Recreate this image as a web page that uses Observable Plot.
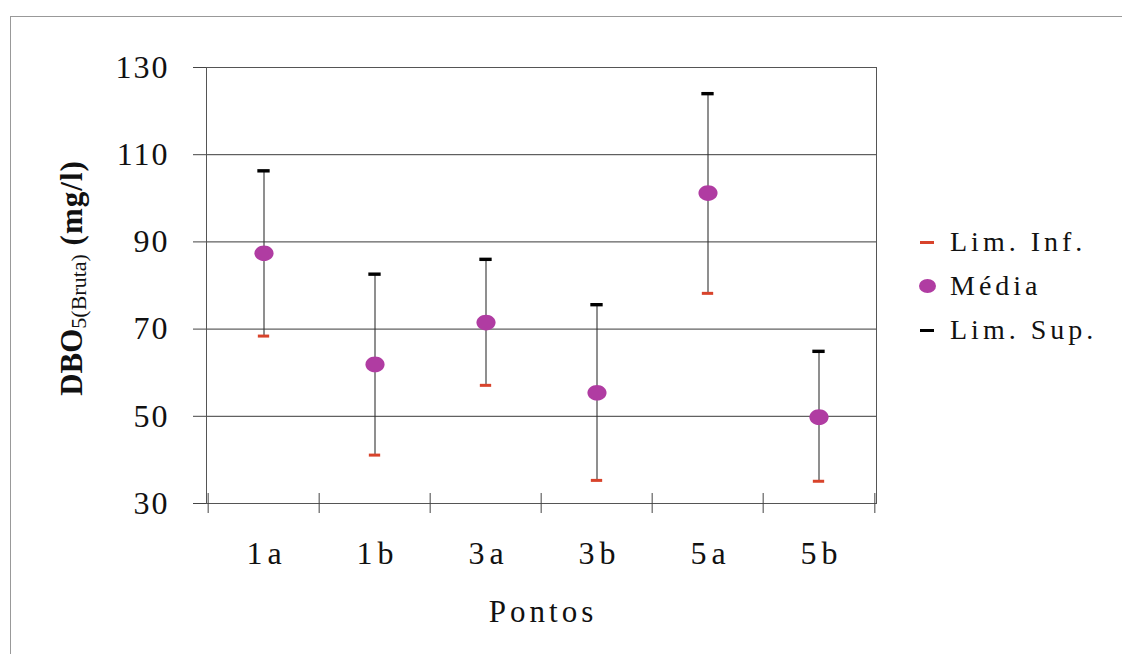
<!DOCTYPE html>
<html><head><meta charset="utf-8">
<script src="https://cdn.jsdelivr.net/npm/d3@7"></script>
<script src="https://cdn.jsdelivr.net/npm/@observablehq/plot@0.6"></script>
<style>
body{margin:0;background:#fff;}
#wrap{position:relative;width:1122px;height:654px;overflow:hidden;font-family:"Liberation Serif","Times New Roman",serif;background:#fff;}
#frame{position:absolute;left:10px;top:16px;right:-5px;bottom:-5px;border-left:1.5px solid #999;border-top:1.5px solid #999;}
#chart{position:absolute;left:0;top:0;}
#legend{position:absolute;left:915px;top:220px;font-family:"Liberation Serif","Times New Roman",serif;font-size:28px;letter-spacing:4px;color:#111;}
.item{display:flex;align-items:center;height:44px;}
.sw{width:24px;margin-right:11px;display:flex;justify-content:center;align-items:center;}
</style></head>
<body>
<div id="wrap"><div id="frame"></div><div id="chart"></div>
<div id="legend"></div></div>
<script>
const pontos = ["1a","1b","3a","3b","5a","5b"];
const limInf = [68.4, 41.1, 57.1, 35.3, 78.2, 35.1];
const media  = [87.4, 61.9, 71.5, 55.4, 101.2, 49.8];
const limSup = [106.3, 82.6, 86.0, 75.6, 124.0, 64.9];
const yTicks = [30, 50, 70, 90, 110, 130];
const seriesNames = ["Lim. Inf.", "Média", "Lim. Sup."];
const colors = {inf: "#d8432b", media: "#b03ca2", sup: "#000000"};

const data = pontos.map((p, i) => ({p, lo: limInf[i], m: media[i], hi: limSup[i]}));

const W = 1122, H = 654, mL = 206, mR = 246, mT = 67, mB = 151;
const bw = (W - mL - mR) / pontos.length;
const serif = '"Liberation Serif", "Times New Roman", serif';

const ellipse = {draw(ctx, size) {
  const r = Math.sqrt(size / Math.PI), rx = r * 1.1, ry = r * 0.9, k = 0.5523;
  ctx.moveTo(rx, 0);
  ctx.bezierCurveTo(rx, ry * k, rx * k, ry, 0, ry);
  ctx.bezierCurveTo(-rx * k, ry, -rx, ry * k, -rx, 0);
  ctx.bezierCurveTo(-rx, -ry * k, -rx * k, -ry, 0, -ry);
  ctx.bezierCurveTo(rx * k, -ry, rx, -ry * k, rx, 0);
  ctx.closePath();
}};

const chart = Plot.plot({
  width: W, height: H, marginLeft: mL, marginRight: mR, marginTop: mT, marginBottom: mB,
  style: {fontFamily: serif, background: "transparent", color: "#111"},
  x: {domain: pontos, padding: 0, axis: null, label: null},
  y: {domain: [30, 130], axis: null, label: null},
  marks: [
    Plot.gridY(yTicks, {stroke: "#3a3a3a", strokeOpacity: 1, strokeWidth: 1}),
    Plot.frame({stroke: "#555", strokeWidth: 1}),
    Plot.axisY(yTicks, {tickSize: 13, tickPadding: 24, fontSize: 32, stroke: "#444", fill: "#111", label: null, fontFamily: serif}),
    Plot.ruleX(pontos, {x: d => d, y1: 30, y2: 30, dx: -bw / 2, insetTop: -10, insetBottom: -10, stroke: "#444"}),
    Plot.ruleX(pontos.slice(-1), {x: d => d, y1: 30, y2: 30, dx: bw / 2, insetTop: -10, insetBottom: -10, stroke: "#444"}),
    Plot.axisX(pontos, {tickSize: 0, tickPadding: 38, fontSize: 32, fill: "#111", label: null, fontFamily: serif}),
    Plot.ruleX(data, {x: "p", y1: "lo", y2: "hi", stroke: "#333", strokeWidth: 1.1}),
    Plot.tickY(data, {x: "p", y: "hi", stroke: colors.sup, strokeWidth: 3.4, insetLeft: (bw - 13) / 2, insetRight: (bw - 13) / 2}),
    Plot.tickY(data, {x: "p", y: "lo", stroke: colors.inf, strokeWidth: 3, insetLeft: (bw - 12) / 2, insetRight: (bw - 12) / 2}),
    Plot.dot(data, {x: "p", y: "m", r: 8.7, symbol: ellipse, fill: colors.media, stroke: "none"})
  ]
});
document.getElementById("chart").appendChild(chart);

const svg = d3.select(chart);
svg.selectAll("text").style("letter-spacing", "2px");
svg.selectAll('g[aria-label="x-axis tick label"] text').style("letter-spacing", "5px").attr("dx", 2.5);
const xr = chart.scale("x").range;
svg.append("text")
  .attr("x", (xr[0] + xr[1]) / 2 + 2).attr("y", 622)
  .attr("text-anchor", "middle").attr("font-size", 31).attr("fill", "#111")
  .style("font-family", serif).style("letter-spacing", "4px")
  .text("Pontos");

const yt = svg.append("text")
  .attr("transform", "translate(82,278) rotate(-90)")
  .attr("text-anchor", "middle").attr("fill", "#111").style("font-family", serif);
yt.append("tspan").attr("font-size", 31).attr("font-weight", "bold").text("DBO");
yt.append("tspan").attr("font-size", 22).attr("dy", 4).text("5(Bruta)");
yt.append("tspan").attr("font-size", 31).attr("font-weight", "bold").attr("dy", -4).style("letter-spacing", "1px").text(" (mg/l)");

const legend = d3.select("#legend");
const swatches = [
  s => s.append("div").style("width", "14px").style("height", "3px").style("background", colors.inf),
  s => s.append("div").style("width", "17px").style("height", "14px").style("border-radius", "50%").style("background", colors.media),
  s => s.append("div").style("width", "14px").style("height", "3px").style("background", colors.sup)
];
seriesNames.forEach((name, i) => {
  const row = legend.append("div").attr("class", "item");
  swatches[i](row.append("div").attr("class", "sw"));
  row.append("span").text(name);
});
</script>
</body></html>
